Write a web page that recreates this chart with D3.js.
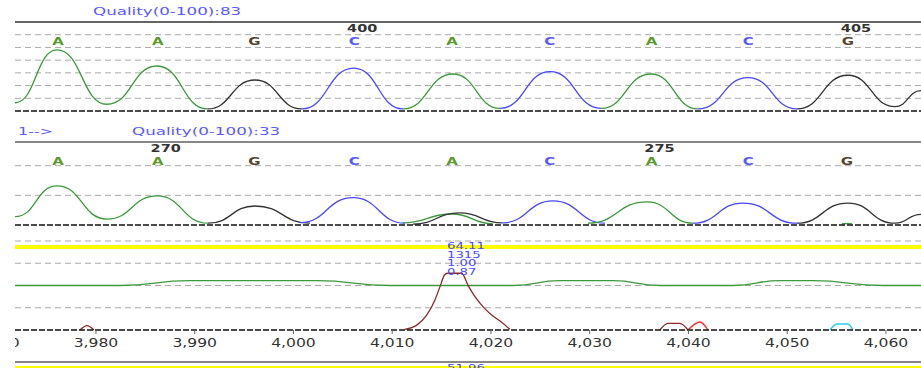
<!DOCTYPE html>
<html>
<head>
<meta charset="utf-8">
<script src="https://d3js.org/d3.v7.min.js"></script>
<style>
body { margin: 0; background: #fff; }
svg { display: block; font-family: "DejaVu Sans", Verdana, sans-serif; }
</style>
</head>
<body>
<svg id="chart" width="921" height="368"></svg>
<script>

// ---------------- data ----------------

var xTicks = [3970, 3980, 3990, 4000, 4010, 4020, 4030, 4040, 4050, 4060];

var callBases = ["A", "A", "G", "C", "A", "C", "A", "C", "G"];
var callPos1 = [3976.2, 3986.3, 3996.1, 4006.2, 4016.1, 4026.0, 4036.3, 4046.1, 4056.2];
var callPos2 = [3976.2, 3986.3, 3996.1, 4006.2, 4016.1, 4026.0, 4036.3, 4046.1, 4056.1];

var numPos1 = [4006.2, 4056.2];
var numText1 = ["400", "405"];
var numPos2 = [3986.3, 4036.3];
var numText2 = ["270", "275"];

var title1 = "Quality(0-100):83";
var title2 = "Quality(0-100):33";
var arrowText = "1-->";

// top trace, signal 0..700
var trace1Bases = ["A", "A", "G", "C", "A", "C", "A", "C", "G"];
var trace1Points = [
	[[3971.85, 65], [3976.1, 480], [3981.16, 53]],
	[[3981.16, 53], [3986.23, 354], [3991.35, 16]],
	[[3991.35, 16], [3996.15, 244], [4000.9, 16]],
	[[4000.9, 16], [4006.15, 338], [4011.14, 16]],
	[[4011.14, 16], [4016.2, 291], [4020.96, 21]],
	[[4020.96, 21], [4026.03, 309], [4031.2, 21]],
	[[4031.2, 21], [4036.25, 291], [4041.0, 16]],
	[[4041.0, 16], [4046.08, 262], [4051.04, 16]],
	[[4051.04, 16], [4056.2, 281], [4060.96, 34], [4063.6, 160]]
];

// second trace, signal 0..300
var trace2Bases = ["A", "A", "G", "C", "A", "G", "C", "A", "C", "G", "A"];
var trace2Points = [
	[[3971.85, 28], [3976.1, 132], [3981.16, 20]],
	[[3981.16, 20], [3986.23, 98], [3991.39, 6]],
	[[3991.39, 6], [3996.15, 64], [4001.72, 6]],
	[[4000.71, 8], [4006.08, 92], [4011.34, 6]],
	[[4011.14, 7], [4016.1, 37], [4020.25, 4]],
	[[4012.15, 3], [4016.9, 41], [4021.16, 7]],
	[[4021.16, 7], [4026.33, 81], [4031.59, 6]],
	[[4029.87, 6], [4035.85, 78], [4040.51, 6]],
	[[4040.51, 6], [4045.57, 74], [4051.04, 6]],
	[[4051.04, 6], [4056.2, 74], [4060.96, 6], [4063.6, 36]],
	[[4055.6, 4.2], [4056.1, 4.6], [4056.6, 4.2]]
];

// third panel, 0..4
var qualityLine = [[3971.85, 2.0], [3982.48, 2.0], [3989.57, 2.22], [4002.43, 2.22], [4009.82, 2.0],
	[4022.28, 2.0], [4027.04, 2.22], [4032.41, 2.22], [4037.16, 2.0], [4044.56, 2.0],
	[4049.32, 2.22], [4052.66, 2.22], [4059.75, 2.0], [4063.6, 2.0]];
var bigPeak = [[4011.34, 0.03], [4012.53, 0.22], [4013.54, 0.67], [4014.38, 1.35], [4014.89, 1.95],
	[4015.39, 2.5], [4015.7, 2.55], [4017.08, 2.55], [4017.72, 2.02], [4018.43, 1.5],
	[4019.24, 1.05], [4020.12, 0.67], [4021.13, 0.35], [4021.97, 0.03]];
var smallPeaks = [
	{color: "#8b2a2a", pts: [[3978.43, 0], [3979.14, 0.2], [3979.85, 0]]},
	{color: "#8b2a2a", pts: [[4037.16, 0], [4037.97, 0.3], [4039.19, 0.3], [4040.0, 0]]},
	{color: "#ff2a2a", pts: [[4040.0, 0], [4041.22, 0.36], [4042.03, 0]]},
	{color: "#22d0f0", pts: [[4054.38, 0], [4055.09, 0.27], [4056.2, 0.27], [4056.71, 0]]}
];
var peakLabelPos = 4015.6;
var peakLabels = ["64.11", "1315", "1.00", "0.87"];
var nextPeakLabel = "51.96";

// ---------------- drawing ----------------

var traceColor = {A: "#3a9a3a", C: "#4848ff", G: "#333333"};
var letterColor = {A: "#5a9a2a", C: "#5858ff", G: "#55452f"};

var svg = d3.select("#chart");
var x = d3.scaleLinear().domain([3971.85, 4063.6]).range([15, 921]);
var y1 = d3.scaleLinear().domain([0, 700]).range([111, 22]);
var y2 = d3.scaleLinear().domain([0, 300]).range([225, 136]);
var y3 = d3.scaleLinear().domain([0, 4]).range([330, 241]);

svg.append("defs").append("clipPath").attr("id", "plotClip")
	.append("rect").attr("x", 15).attr("y", 0).attr("width", 906).attr("height", 368);

var plot = svg.append("g").attr("clip-path", "url(#plotClip)");

// stretched text, the source screen is wide
function stext(g, px, py, str, size, sx, color, anchor, weight){
	return g.append("text")
		.attr("transform", "translate(" + px + "," + py + ") scale(" + sx + ",1)")
		.attr("font-size", size)
		.attr("font-weight", weight || "normal")
		.attr("text-anchor", anchor || "start")
		.attr("fill", color)
		.text(str);
}

function hline(py, color, dash, width){
	plot.append("line")
		.attr("x1", 15).attr("x2", 921)
		.attr("y1", py).attr("y2", py)
		.attr("stroke", color)
		.attr("stroke-width", width || 1)
		.attr("stroke-dasharray", dash);
}

function drawTrace(y, bases, pts){
	var line = d3.line()
		.x(function(d){ return x(d[0]); })
		.y(function(d){ return y(d[1]); })
		.curve(d3.curveBumpX);
	plot.append("g").selectAll("path")
		.data(pts)
		.enter().append("path")
		.attr("d", line)
		.attr("fill", "none")
		.attr("stroke", function(d, i){ return traceColor[bases[i]]; })
		.attr("stroke-width", 1.3);
}

function drawCalls(py, pos, numPos, numText, numY){
	pos.forEach(function(p, i){
		stext(plot, x(p), py, callBases[i], 10, 1.5, letterColor[callBases[i]], "middle", "bold");
	});
	numPos.forEach(function(p, i){
		stext(plot, x(p) + 8, numY, numText[i], 10, 1.45, "#333", "middle", "bold");
	});
}

//---------------- panel 1 ----------------
stext(svg, 93, 15, title1, 11, 1.52, "#5a5aff");
hline(y1(700), "#333", null, 1.5);
[100, 200, 300, 400, 500, 600].forEach(function(v){ hline(y1(v), "#aaa", "6,4"); });
drawCalls(44.5, callPos1, numPos1, numText1, 31.7);
drawTrace(y1, trace1Bases, trace1Points);
hline(y1(0), "#111", "6,2", 1.5);

//---------------- panel 2 ----------------
stext(svg, 18, 135, arrowText, 11, 1.45, "#5a5aff");
stext(svg, 132, 135, title2, 11, 1.52, "#5a5aff");
hline(142, "#888", null, 2);
[100, 200].forEach(function(v){ hline(y2(v), "#aaa", "6,4"); });
drawCalls(164.5, callPos2, numPos2, numText2, 152.3);
drawTrace(y2, trace2Bases, trace2Points);
hline(y2(0), "#111", "6,2", 1.5);

//---------------- panel 3 ----------------
[1, 2, 3, 4].forEach(function(v){ hline(y3(v), "#aaa", "6,4"); });
hline(247, "#ffff00", null, 4);

var line3 = d3.line()
	.x(function(d){ return x(d[0]); })
	.y(function(d){ return y3(d[1]); });

plot.append("path")
	.datum(qualityLine)
	.attr("d", line3.curve(d3.curveBumpX))
	.attr("fill", "none")
	.attr("stroke", "#3a9a3a")
	.attr("stroke-width", 1.3);

line3.curve(d3.curveMonotoneX);
plot.append("path")
	.datum(bigPeak)
	.attr("d", line3)
	.attr("fill", "none")
	.attr("stroke", "#8b2a2a")
	.attr("stroke-width", 1.3);

smallPeaks.forEach(function(s){
	plot.append("path")
		.datum(s.pts)
		.attr("d", line3)
		.attr("fill", "none")
		.attr("stroke", s.color)
		.attr("stroke-width", 1.3);
});

peakLabels.forEach(function(t, i){
	stext(plot, x(peakLabelPos), 249 + i * 8.7, t, 9, 1.47, "#4a4aff");
});

hline(y3(0), "#111", "6,2", 1.5);

var axis = d3.axisBottom(x)
	.tickValues(xTicks)
	.tickFormat(d3.format(","))
	.tickSize(4)
	.tickPadding(4);

var ag = plot.append("g")
	.attr("transform", "translate(0," + y3(0) + ")")
	.call(axis)
	.attr("font-family", null)
	.attr("font-size", 12);
ag.select(".domain").remove();
ag.selectAll(".tick line").attr("stroke", "#666");
ag.selectAll(".tick text")
	.attr("fill", "#333")
	.attr("transform", "scale(1.3,1)");

// next panel peeking in at the bottom
hline(362, "#888", null, 2);
hline(368, "#ffff00", null, 4);
stext(plot, x(peakLabelPos), 370.5, nextPeakLabel, 9, 1.47, "#4a4aff");

</script>
</body>
</html>
